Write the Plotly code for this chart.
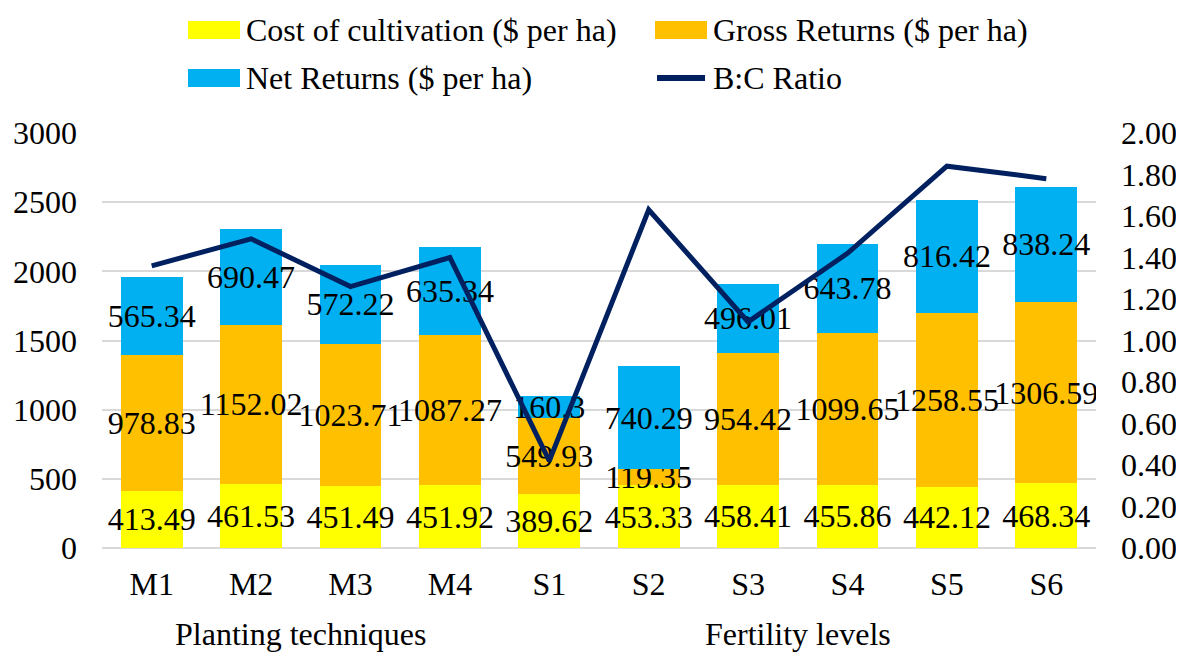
import plotly.graph_objects as go

categories = ["M1", "M2", "M3", "M4", "S1", "S2", "S3", "S4", "S5", "S6"]
group_labels = ["Planting techniques", "Fertility levels"]
group_members = [["M1", "M2", "M3", "M4"], ["S1", "S2", "S3", "S4", "S5", "S6"]]
cost = [413.49, 461.53, 451.49, 451.92, 389.62, 453.33, 458.41, 455.86, 442.12, 468.34]
gross = [978.83, 1152.02, 1023.71, 1087.27, 549.93, 119.35, 954.42, 1099.65, 1258.55, 1306.59]
net = [565.34, 690.47, 572.22, 635.34, 160.3, 740.29, 496.01, 643.78, 816.42, 838.24]
bc_ratio = [1.36, 1.49, 1.26, 1.40, 0.42, 1.63, 1.09, 1.42, 1.84, 1.78]

series_names = ["Cost of cultivation ($ per ha)", "Gross Returns ($ per ha)",
                "Net Returns ($ per ha)", "B:C Ratio"]
colors = ["#FFFF00", "#FFC000", "#00B0F0", "#002060"]

FONT = "Liberation Serif"
FS = 32

fig = go.Figure()
for vals, name, col in zip([cost, gross, net], series_names[:3], colors[:3]):
    fig.add_trace(go.Bar(
        x=categories, y=vals, name=name, marker=dict(color=col, line=dict(width=0)),
        text=[f"{v:g}" for v in vals], textposition="inside", textangle=0,
        insidetextanchor="middle", constraintext="none",
        textfont=dict(family=FONT, size=FS, color="black"),
        showlegend=False,
    ))
fig.add_trace(go.Scatter(
    x=categories, y=bc_ratio, name=series_names[3], yaxis="y2", mode="lines",
    line=dict(color=colors[3], width=5), showlegend=False,
))

# target plot area in page pixels; page body adds an 8px offset
OFF = 8
L, R, T, B = 102, 1096, 133, 548
W, H = 1184, 657
def px(xp): return (xp - L) / (R - L)
def py(yp): return (B - yp) / (B - T)

shapes = []
annotations = []
leg = [(188, 30, 0), (655, 30, 1), (188, 78, 2), (655, 78, 3)]
for (lx, ly, i) in leg:
    if i < 3:
        shapes.append(dict(type="rect", xref="paper", yref="paper",
                           x0=px(lx), x1=px(lx + 52), y0=py(ly + 9), y1=py(ly - 9),
                           fillcolor=colors[i], line=dict(width=0)))
    else:
        shapes.append(dict(type="line", xref="paper", yref="paper",
                           x0=px(lx + 2), x1=px(lx + 50), y0=py(ly), y1=py(ly),
                           line=dict(color=colors[i], width=6)))
    annotations.append(dict(xref="paper", yref="paper", x=px(lx + 56), y=py(ly),
                            xanchor="left", yanchor="middle", showarrow=False,
                            text=series_names[i],
                            font=dict(family=FONT, size=FS, color="black")))

for label, members in zip(group_labels, group_members):
    idx = [categories.index(m) for m in members]
    annotations.append(dict(xref="x", yref="paper", x=sum(idx) / len(idx), y=py(634),
                            xanchor="center", yanchor="middle", showarrow=False,
                            text=label, font=dict(family=FONT, size=FS, color="black")))

fig.update_layout(
    width=W, height=H,
    margin=dict(l=L - OFF, r=W - R + OFF, t=T - OFF, b=H - B + OFF, autoexpand=False),
    barmode="stack", bargap=0.38,
    plot_bgcolor="white", paper_bgcolor="white",
    font=dict(family=FONT, size=FS, color="black"),
    showlegend=False,
    shapes=shapes, annotations=annotations,
    xaxis=dict(type="category", showgrid=False, showline=False, ticks="",
               ticklabelstandoff=14, tickfont=dict(family=FONT, size=FS)),
    yaxis=dict(range=[0, 3000], dtick=500, showgrid=True, gridcolor="#D9D9D9",
               gridwidth=1.5, zeroline=True, zerolinecolor="#D9D9D9",
               zerolinewidth=1.5, showline=False, ticks="",
               ticklabelstandoff=24, tickfont=dict(family=FONT, size=FS)),
    yaxis2=dict(range=[0, 2], dtick=0.2, tickformat=".2f", overlaying="y",
                side="right", showgrid=False, zeroline=False, showline=False,
                ticks="", ticklabelstandoff=24,
                tickfont=dict(family=FONT, size=FS)),
)

fig.write_html("out.html")
